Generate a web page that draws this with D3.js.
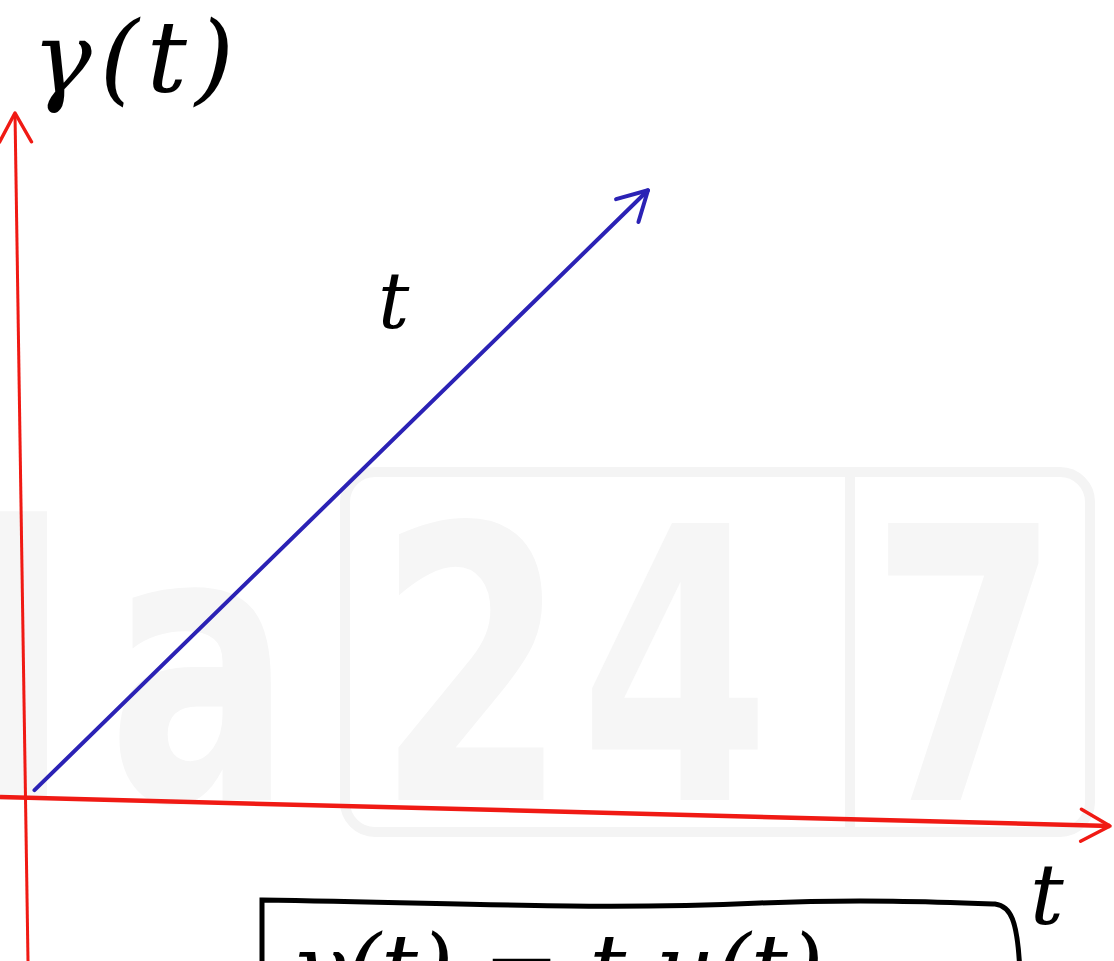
<!DOCTYPE html>
<html>
<head>
<meta charset="utf-8">
<script src="https://cdn.jsdelivr.net/npm/d3@7"></script>
<style>
  body { margin: 0; background: #fff; }
  .hand { font-family: "DejaVu Serif", serif; font-style: italic; fill: #000; }
  .wm { font-family: "DejaVu Sans", sans-serif; font-weight: bold; fill: #f6f6f6; }
</style>
</head>
<body>
<div id="chart"></div>
<script>
// 1: DATA - ramp gamma(t) = t
const rampT = [0.06, 5.73];
const rampR = [0.10, 8.87];
const xDomain = [0, 10];
const yDomain = [0, 10];

// labels
const yLabel = "γ(t)";
const xLabel = "t";
const lineLabel = "t";
const formula = "γ(t) = t u(t)";
const watermark = ["d", "a", "2", "4", "7"];

// 2: SVG
const width = 1114, height = 961;
const svg = d3.select("#chart").append("svg")
    .attr("width", width)
    .attr("height", height);

// scales (origin of the sketch near 28,797)
const x = d3.scaleLinear().domain(xDomain).range([28, 1110]);
const y = d3.scaleLinear().domain(yDomain).range([797, 113]);

// arrow markers (open V heads)
const defs = svg.append("defs");
function arrow(id, color, w) {
    defs.append("marker")
        .attr("id", id)
        .attr("viewBox", "-40 -25 50 50")
        .attr("markerUnits", "userSpaceOnUse")
        .attr("markerWidth", 50)
        .attr("markerHeight", 50)
        .attr("refX", 0)
        .attr("refY", 0)
        .attr("orient", "auto")
        .append("path")
        .attr("d", "M-29,-16 L0,0 L-29,16")
        .attr("fill", "none")
        .attr("stroke", color)
        .attr("stroke-width", w)
        .attr("stroke-linecap", "round")
        .attr("stroke-linejoin", "round");
}
arrow("redArrow", "#f01a14", 3.5);
arrow("blueArrow", "#2b22b5", 4);

// 3: WATERMARK (faint background)
const wm = svg.append("g").attr("class", "watermark");
wm.append("rect")
    .attr("x", 345).attr("y", 472)
    .attr("width", 745).attr("height", 360)
    .attr("rx", 30)
    .attr("fill", "none")
    .attr("stroke", "#f4f4f4")
    .attr("stroke-width", 10);
wm.append("line")
    .attr("x1", 850).attr("x2", 850)
    .attr("y1", 472).attr("y2", 832)
    .attr("stroke", "#f4f4f4")
    .attr("stroke-width", 10);
const wmPos = [[70, "end"], [200, "middle"], [472, "middle"], [675, "middle"], [965, "middle"]];
const wmSx = 0.72; // narrow, squared-off glyphs
wm.selectAll("text")
    .data(watermark)
    .enter()
    .append("text")
    .attr("class", "wm")
    .attr("transform", (d, i) => `translate(${wmPos[i][0]},800) scale(${wmSx},1)`)
    .attr("text-anchor", (d, i) => wmPos[i][1])
    .attr("font-size", 380)
    .text(d => d);

// 4: AXES (hand drawn, slightly tilted)
svg.append("line")
    .attr("x1", 28).attr("y1", 961)
    .attr("x2", 15).attr("y2", y(yDomain[1]))
    .attr("stroke", "#f01a14")
    .attr("stroke-width", 3)
    .attr("marker-end", "url(#redArrow)");

svg.append("line")
    .attr("x1", 0).attr("y1", 797)
    .attr("x2", x(xDomain[1])).attr("y2", 826)
    .attr("stroke", "#f01a14")
    .attr("stroke-width", 4.5)
    .attr("marker-end", "url(#redArrow)");

// 5: RAMP LINE
const pts = rampT.map((t, i) => [x(t), y(rampR[i])]);
svg.append("path")
    .datum(pts)
    .attr("d", d3.line())
    .attr("fill", "none")
    .attr("stroke", "#2b22b5")
    .attr("stroke-width", 4)
    .attr("stroke-linecap", "round")
    .attr("marker-end", "url(#blueArrow)");

// 6: LABELS
svg.append("text")
    .attr("class", "hand")
    .attr("x", 32).attr("y", 92)
    .attr("font-size", 100)
    .attr("letter-spacing", 8)
    .text(yLabel);

svg.append("text")
    .attr("class", "hand")
    .attr("x", 378).attr("y", 328)
    .attr("font-size", 78)
    .text(lineLabel);

svg.append("text")
    .attr("class", "hand")
    .attr("x", 1030).attr("y", 924)
    .attr("font-size", 84)
    .text(xLabel);

// bottom boxed formula (cut off by the picture edge)
svg.append("path")
    .attr("d", "M262,975 L262,900 C500,904 600,910 760,903 C860,899 940,902 995,904 C1010,906 1018,918 1020,975")
    .attr("fill", "none")
    .attr("stroke", "#000")
    .attr("stroke-width", 5)
    .attr("stroke-linecap", "round");

svg.append("text")
    .attr("class", "hand")
    .attr("x", 290).attr("y", 1000)
    .attr("font-size", 92)
    .text(formula);
</script>
</body>
</html>
